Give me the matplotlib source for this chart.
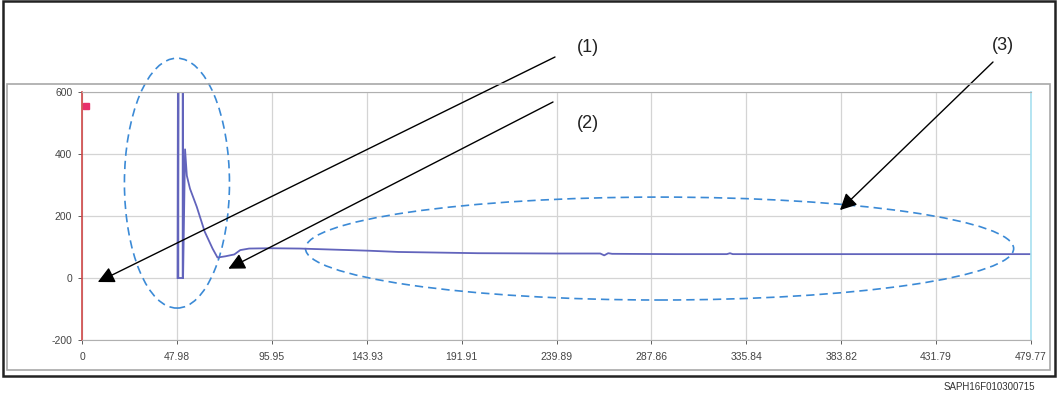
import numpy as np
import matplotlib.pyplot as plt
from matplotlib.patches import Ellipse, Rectangle

# signal
t = [0, 48.3, 48.3, 48.5, 48.5, 48.7, 48.7, 50.9, 50.9, 51.1, 51.1, 52.1, 53.0, 54.6, 58.0,
     62.0, 66.0, 68.5, 72.5, 77.0, 80.0, 84.5, 95.0, 110.0, 125.0, 145.0, 160.0, 180.0,
     200.0, 240.0, 262.0, 264.0, 266.0, 268.0, 300.0, 326.0, 327.6, 329.0, 380.0, 430.0, 479.77]
v = [np.nan, np.nan, 0, 600, 0, 600, 0, 0, 600, 600, 0, 415, 330, 288, 230,
     150, 95, 66, 70, 76, 90, 95, 96, 95, 92, 88, 84, 82,
     80, 79, 79, 73, 80, 78, 77, 77, 80, 77, 77, 77, 77]

xticks = [0, 47.98, 95.95, 143.93, 191.91, 239.89, 287.86, 335.84, 383.82, 431.79, 479.77]
xlabels = ['0', '47.98', '95.95', '143.93', '191.91', '239.89', '287.86', '335.84', '383.82', '431.79', '479.77']
yticks = [-200, 0, 200, 400, 600]
callouts = ['(1)', '(2)', '(3)']

W, H = 1057, 397
plt.rcParams['font.family'] = ['Liberation Sans', 'DejaVu Sans']
plt.rcParams['axes.unicode_minus'] = False
fig = plt.figure(figsize=(W / 100, H / 100), dpi=100)

def px(x0, y0, x1, y1):
    return [x0 / W, 1 - y1 / H, (x1 - x0) / W, (y1 - y0) / H]

# frames
fig.add_artist(Rectangle((3 / W, 1 - 376 / H), 1052 / W, 375 / H, transform=fig.transFigure,
                         fill=False, ec='#222222', lw=1.8))
fig.add_artist(Rectangle((7 / W, 1 - 370 / H), 1043 / W, 286 / H, transform=fig.transFigure,
                         fill=False, ec='#a8a8a8', lw=1.2))

ax = fig.add_axes(px(82, 92, 1031, 340))
ax.plot(t, v, color='#6264bc', lw=1.3)
ax.set_xlim(0, 479.77)
ax.set_ylim(-200, 600)
ax.set_xticks(xticks)
ax.set_xticklabels(xlabels)
ax.set_yticks(yticks)
ax.tick_params(labelsize=7.5, colors='#444444', length=3, width=0.6, pad=4)
ax.tick_params(axis='x', pad=6)
ax.grid(True, color='#d4d4d4', lw=0.9)
ax.set_axisbelow(True)
for s in ['top', 'bottom']:
    ax.spines[s].set_color('#b0b0b0')
ax.spines['left'].set_color('#d04848')
ax.spines['left'].set_linewidth(1.2)
ax.spines['right'].set_color('#a8e0f0')
ax.spines['right'].set_linewidth(1.2)
ax.plot([2], [555], marker='s', ms=5, color='#e8306a', clip_on=False)

# dashed ellipses
ax.add_patch(Ellipse((48.0, 306), 53.1, 806, fill=False, ec='#3b8ad6', lw=1.2,
                     ls=(0, (5, 3)), clip_on=False))
ax.add_patch(Ellipse((292.0, 95), 358.0, 332, fill=False, ec='#3b8ad6', lw=1.2,
                     ls=(0, (5, 3)), clip_on=False))

# callout arrows
tips = [(8.0, -13), (74.0, 30), (383.2, 219)]
starts = [(555, 57), (553, 102), (993, 62)]
labels_at = [(588, 48), (588, 123), (1003, 45)]
for lab, tip, st, la in zip(callouts, tips, starts, labels_at):
    ax.annotate('', xy=tip, xycoords='data',
                xytext=(st[0] / W, 1 - st[1] / H), textcoords='figure fraction',
                arrowprops=dict(arrowstyle='-|>,head_length=1.0,head_width=0.5',
                                color='black', lw=1.0, shrinkA=0, shrinkB=0))
    fig.text(la[0] / W, 1 - la[1] / H, lab, fontsize=13, color='#222222',
             ha='center', va='center')

fig.text(1035 / W, 1 - 387 / H, 'SAPH16F010300715', fontsize=7, color='#333333',
         ha='right', va='center')

fig.savefig('out.png', dpi=100)
